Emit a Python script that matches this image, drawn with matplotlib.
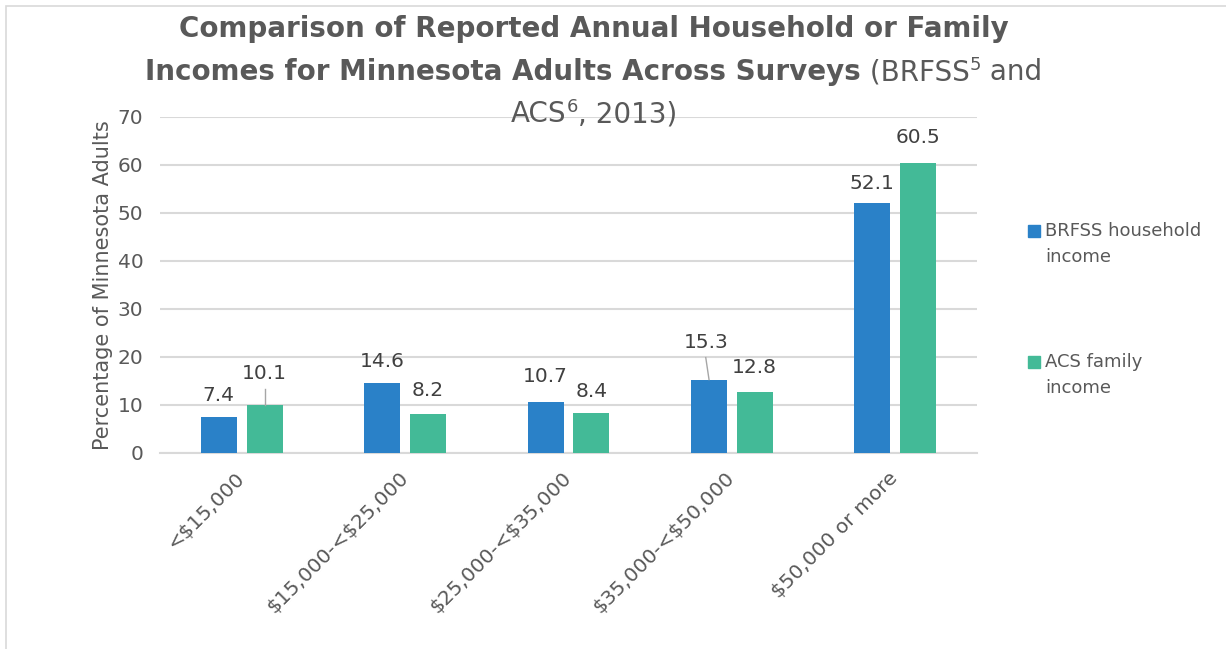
import numpy as np
from matplotlib import pyplot as plt
from matplotlib.patches import Rectangle

categories = ['<$15,000', '$15,000-<$25,000', '$25,000-<$35,000', '$35,000-<$50,000', '$50,000 or more']
brfss = [7.4, 14.6, 10.7, 15.3, 52.1]
acs = [10.1, 8.2, 8.4, 12.8, 60.5]
series_names = ['BRFSS household\nincome', 'ACS family\nincome']

blue = '#2A81C8'
green = '#43BA97'
grey_txt = '#595959'
grid_col = '#D9D9D9'

plt.rcParams['font.family'] = ['DejaVu Sans']
plt.rcParams['text.parse_math'] = False

W, H = 1226, 649
fig = plt.figure(figsize=(W / 100, H / 100), dpi=100)
ax = fig.add_axes([160 / W, 1 - 453 / H, (977 - 160) / W, (453 - 117) / H])

def fx(px):
    return px / W

def fy(py):
    return 1 - py / H

# light frame of the chart area
fig.patches.append(Rectangle((fx(6), -0.1), 1.2, fy(6) + 0.1, transform=fig.transFigure,
                             fill=False, edgecolor='#D9D9D9', lw=1.2))

x = np.arange(len(categories))
w = 0.22
off = 0.14
ax.bar(x - off, brfss, w, color=blue, zorder=3)
ax.bar(x + off, acs, w, color=green, zorder=3)

ax.set_xlim(-0.5, len(categories) - 0.5)
ax.set_ylim(0, 70)
ax.set_yticks(range(0, 71, 10))
ax.yaxis.grid(True, color=grid_col, lw=1.5, zorder=0)
ax.set_axisbelow(True)
for s in ['top', 'right', 'left']:
    ax.spines[s].set_visible(False)
ax.spines['bottom'].set_color(grid_col)
ax.spines['bottom'].set_linewidth(1.5)
ax.tick_params(axis='both', length=0, labelsize=14.5, labelcolor=grey_txt)
ax.tick_params(axis='y', pad=12)
ax.set_xticks(x)
ax.set_xticklabels(categories, rotation=45, ha='right', va='center', rotation_mode='anchor')
ax.tick_params(axis='x', pad=16)
ax.set_ylabel('Percentage of Minnesota Adults', fontsize=15, color=grey_txt, labelpad=3)

# data labels (pixel gap above bar top), two pushed up with leader lines
px_unit = (453 - 117) / 70.0
gap_b = [22, 21, 25, 37, 19]
gap_a = [31, 23, 21, 24, 25]
lead_b = [False, False, False, True, False]
lead_a = [True, False, False, False, False]
for i in range(len(categories)):
    for vals, gaps, leads, xo in [(brfss, gap_b, lead_b, -off), (acs, gap_a, lead_a, off)]:
        v = vals[i]
        yt = v + gaps[i] / px_unit
        xt = x[i] + xo - (0.02 if leads[i] and xo < 0 else 0)
        ax.text(xt, yt, f'{v:.1f}', ha='center', va='center', fontsize=14.5, color='#404040')
        if leads[i]:
            ax.plot([xt, x[i] + xo], [yt - 15 / px_unit, v], color='#A6A6A6', lw=1, zorder=4)

# legend drawn by hand so the swatch sits on the first text line
leg_rows = [(series_names[0], blue, 231), (series_names[1], green, 362)]
for name, col, yc in leg_rows:
    fig.patches.append(Rectangle((fx(1028), fy(yc + 6)), fx(12), 12 / H, transform=fig.transFigure,
                                 color=col))
    for k, ln in enumerate(name.split('\n')):
        fig.text(fx(1045), fy(yc + 26 * k), ln, ha='left', va='center', fontsize=13, color=grey_txt)

# title, mixed bold / regular with real superscripts
tsize = 20
fig.text(fx(594), fy(37), 'Comparison of Reported Annual Household or Family',
         ha='center', va='baseline', fontsize=tsize, fontweight='bold', color=grey_txt)

def text_run(pieces, base_px):
    arts = []
    for txt, bold, sup in pieces:
        size = tsize * 0.65 if sup else tsize
        t = fig.text(0, fy(base_px - (10 if sup else 0)), txt, ha='left', va='baseline',
                     fontsize=size, fontweight='bold' if bold else 'normal', color=grey_txt)
        arts.append(t)
    fig.canvas.draw()
    r = fig.canvas.get_renderer()
    widths = [a.get_window_extent(r).width for a in arts]
    xs = 594 - sum(widths) / 2
    for a, wd in zip(arts, widths):
        a.set_x(fx(xs))
        xs += wd

text_run([('Incomes for Minnesota Adults Across Surveys', True, False),
          (' (BRFSS', False, False), ('5', False, True), (' and', False, False)], 80)
text_run([('ACS', False, False), ('6', False, True), (', 2013)', False, False)], 122)

fig.savefig('out.png', dpi=100)
